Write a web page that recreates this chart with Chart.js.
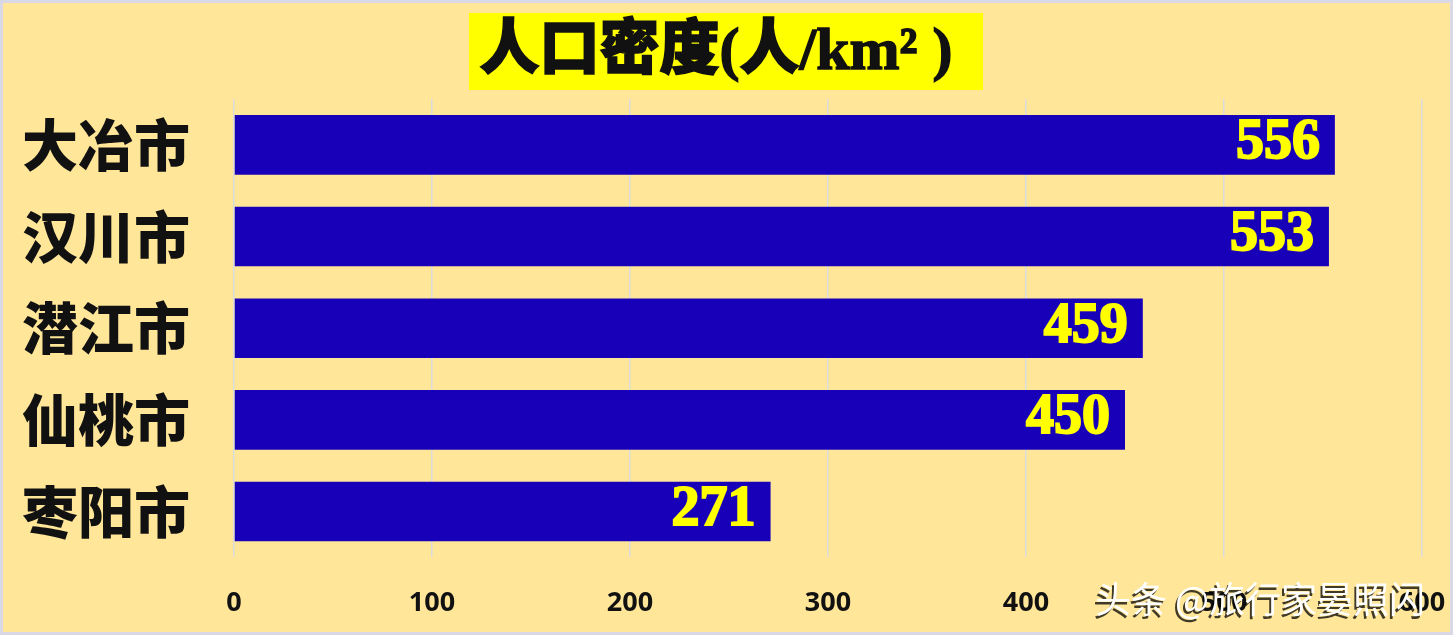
<!DOCTYPE html>
<html>
<head>
<meta charset="utf-8">
<script src="https://cdn.jsdelivr.net/npm/chart.js@4.4.1/dist/chart.umd.min.js"></script>
<style>
  html, body { margin: 0; padding: 0; background: #FFE699; }
  #wrap { width: 1453px; height: 635px; position: relative; }
</style>
</head>
<body>
<div id="wrap"><canvas id="myChart" width="1453" height="635"></canvas></div>
<script>
const titleText = '人口密度(人/km² )';
const cities = ['大冶市', '汉川市', '潜江市', '仙桃市', '枣阳市'];
const density = [556, 553, 459, 450, 271];
const xMin = 0;
const xMax = 600;
const xStep = 100;
const watermark = '头条 @旅行家晏照闪';

// yellow title box, value labels, frame and watermark
const decorations = {
  id: 'decorations',
  beforeDraw(chart) {
    const ctx = chart.ctx;
    ctx.save();
    ctx.fillStyle = '#FFE699';
    ctx.fillRect(0, 0, chart.width, chart.height);
    ctx.strokeStyle = '#D9D9E6';
    ctx.lineWidth = 3;
    ctx.strokeRect(1.5, 1.5, chart.width - 3, chart.height - 3);
    // title
    ctx.fillStyle = '#FFFF00';
    ctx.fillRect(469, 13, 514, 77);
    ctx.fillStyle = '#111';
    ctx.strokeStyle = '#111';
    ctx.lineWidth = 1.5;
    ctx.font = "900 60px 'Liberation Serif', 'Noto Sans CJK SC'";
    ctx.textAlign = 'center';
    ctx.textBaseline = 'middle';
    ctx.fillText(titleText, 716, 53);
    ctx.strokeText(titleText, 716, 53);
    ctx.restore();
  },
  afterDatasetsDraw(chart) {
    const ctx = chart.ctx;
    const meta = chart.getDatasetMeta(0);
    ctx.save();
    ctx.fillStyle = '#FFFF00';
    ctx.strokeStyle = '#FFFF00';
    ctx.lineWidth = 2;
    ctx.font = "bold 56px 'Liberation Serif'";
    ctx.textAlign = 'right';
    ctx.textBaseline = 'middle';
    meta.data.forEach((bar, i) => {
      ctx.fillText(String(density[i]), bar.x - 15, bar.y - 1);
      ctx.strokeText(String(density[i]), bar.x - 15, bar.y - 1);
    });
    ctx.restore();
  },
  afterDraw(chart) {
    const ctx = chart.ctx;
    ctx.save();
    ctx.font = "36px 'Noto Sans CJK SC'";
    ctx.textAlign = 'left';
    ctx.textBaseline = 'middle';
    ctx.fillStyle = 'rgba(0,0,0,0.75)';
    ctx.fillText(watermark, 1093, 602);
    ctx.fillStyle = '#FFFFFF';
    ctx.fillText(watermark, 1095, 599);
    ctx.restore();
  }
};

new Chart(document.getElementById('myChart'), {
  type: 'bar',
  data: {
    labels: cities,
    datasets: [{
      data: density,
      backgroundColor: '#1800B8',
      borderWidth: 0,
      barPercentage: 0.65,
      categoryPercentage: 1.0
    }]
  },
  options: {
    indexAxis: 'y',
    responsive: false,
    animation: false,
    devicePixelRatio: 1,
    layout: { padding: { top: 99, right: 31, left: 0, bottom: 0 } },
    plugins: {
      legend: { display: false },
      tooltip: { enabled: false }
    },
    scales: {
      x: {
        min: xMin,
        max: xMax,
        afterFit(scale) {
          scale.height = 77;
          scale.paddingLeft = 0;
          scale.paddingRight = 0;
        },
        border: { display: false },
        grid: { color: '#DCDCDC', lineWidth: 1.5, drawTicks: false },
        ticks: {
          stepSize: xStep,
          padding: 30,
          color: '#111',
          font: { family: 'Open Sans', size: 27, weight: 'bold' }
        }
      },
      y: {
        afterFit(scale) { scale.width = 234; },
        border: { display: false },
        grid: { display: false, drawTicks: false },
        ticks: {
          padding: 44,
          color: '#111',
          font: { family: 'Noto Sans CJK SC', size: 56, weight: '900' }
        }
      }
    }
  },
  plugins: [decorations]
});
</script>
</body>
</html>
